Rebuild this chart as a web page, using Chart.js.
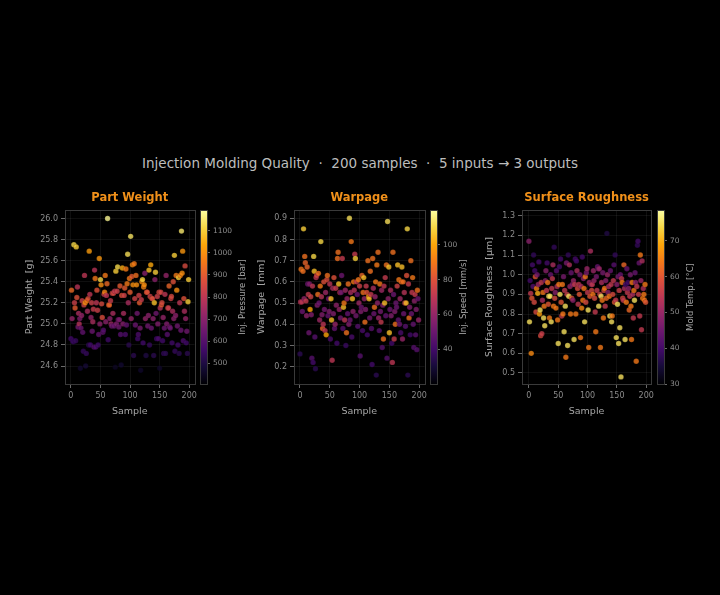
<!DOCTYPE html>
<html>
<head>
<meta charset="utf-8">
<script src="https://cdn.jsdelivr.net/npm/chart.js@4.4.1/dist/chart.umd.min.js"></script>
<style>
  html, body { margin: 0; padding: 0; background: #000; }
  #wrap { position: relative; width: 720px; height: 595px; background: #000; overflow: hidden; }
  #title {
    position: absolute; top: 153px; left: 0; width: 720px; text-align: center;
    font: 13.5px "DejaVu Sans", sans-serif; color: #bdbdbd; line-height: 20px; white-space: pre;
  }
  canvas { position: absolute; }
</style>
</head>
<body>
<div id="wrap">
  <div id="title">Injection Molding Quality  ·  200 samples  ·  5 inputs → 3 outputs</div>
  <canvas id="c1" width="190" height="240" style="left:10px;top:185px"></canvas>
  <canvas id="cb1" width="70" height="240" style="left:196px;top:185px"></canvas>
  <canvas id="c2" width="190" height="240" style="left:240px;top:185px"></canvas>
  <canvas id="cb2" width="70" height="240" style="left:426px;top:185px"></canvas>
  <canvas id="c3" width="187" height="240" style="left:470px;top:185px"></canvas>
  <canvas id="cb3" width="70" height="240" style="left:653px;top:185px"></canvas>
</div>
<script>
// ---- data (sample index 0..199) ----
const samples = Array.from({ length: 200 }, (_, i) => i);
const sampleTicks = [0, 50, 100, 150, 200];

const partWeight = [
  24.86,25.32,25.05,24.84,24.83,25.75,25.20,25.15,24.84,25.73,
  25.25,25.35,24.97,25.10,25.00,25.05,24.58,24.96,25.08,25.22,
  24.92,24.74,25.18,25.46,25.20,24.60,24.72,25.22,25.12,25.24,
  24.80,25.69,25.28,24.80,25.06,25.20,24.93,25.02,25.14,24.78,
  25.51,25.43,24.78,25.20,25.32,25.13,24.80,24.90,25.62,25.00,
  25.42,25.37,25.19,25.06,24.92,24.94,25.28,25.30,25.46,25.02,
  25.27,25.38,26.00,24.85,25.18,25.18,25.05,25.22,25.00,24.98,
  25.29,25.10,25.29,24.98,25.31,24.59,25.50,25.00,25.31,25.54,
  25.04,24.97,25.04,25.36,24.90,24.61,25.27,25.53,25.00,25.10,
  25.27,25.34,24.90,25.52,24.99,25.38,25.66,25.20,24.80,25.43,
  25.30,25.83,25.05,25.45,25.56,25.37,24.70,25.57,25.24,24.99,
  25.46,25.37,25.10,24.86,24.90,25.27,25.20,24.96,24.56,25.23,
  25.40,25.42,24.82,25.35,25.37,25.48,25.05,24.70,25.30,25.30,
  24.98,25.08,25.51,24.80,25.26,25.56,24.96,25.24,25.24,25.05,
  24.70,25.20,25.42,25.49,25.10,24.86,25.26,25.00,24.86,25.30,
  24.58,25.15,25.30,25.18,25.20,24.84,25.06,24.72,24.96,25.28,
  24.72,25.46,25.00,24.90,25.15,25.15,25.36,24.97,24.96,25.24,
  25.26,24.82,25.12,25.40,25.05,25.65,24.74,25.08,25.46,25.32,
  24.98,24.80,25.44,24.72,25.20,25.46,24.94,25.88,25.48,25.69,
  24.84,25.24,25.12,25.55,25.05,24.82,24.93,24.72,25.21,25.42
];
const injPressure = [
  560,930,720,560,540,1120,830,900,540,1100,
  880,790,650,760,780,680,470,640,720,830,
  620,540,840,800,1000,480,540,960,760,880,
  520,1020,800,560,720,830,640,760,820,600,
  790,960,580,800,880,830,560,620,1010,700,
  1120,1000,860,870,620,600,820,980,960,700,
  800,930,1180,560,900,920,700,820,740,650,
  840,760,860,640,810,450,1100,680,830,1120,
  660,650,680,900,600,470,880,1050,690,760,
  840,900,580,960,620,960,1130,760,520,960,
  900,1140,720,900,990,1000,520,960,840,640,
  940,1000,650,560,580,840,900,660,460,820,
  1000,1110,560,980,1000,690,720,500,900,880,
  650,700,1080,540,840,1040,640,900,860,700,
  520,1080,700,1100,650,560,830,680,580,860,
  460,780,850,900,860,560,720,540,640,800,
  520,720,680,600,860,820,920,660,640,840,
  860,560,760,880,700,1100,540,700,960,1000,
  650,560,1100,520,800,980,640,1150,1000,1010,
  580,880,760,860,720,560,650,520,1100,1100
];
const weightTicks = [24.6, 24.8, 25.0, 25.2, 25.4, 25.6, 25.8, 26.0];
const pressureTicks = [500, 600, 700, 800, 900, 1000, 1100];

const warpage = [
  0.26,0.505,0.66,0.505,0.46,0.65,0.85,0.52,0.72,0.69,
  0.51,0.44,0.67,0.59,0.54,0.36,0.59,0.47,0.53,0.445,
  0.24,0.58,0.22,0.72,0.65,0.34,0.19,0.62,0.63,0.49,
  0.54,0.64,0.50,0.42,0.58,0.79,0.53,0.445,0.38,0.40,
  0.60,0.47,0.37,0.55,0.35,0.61,0.63,0.44,0.52,0.46,
  0.59,0.33,0.52,0.42,0.23,0.57,0.45,0.62,0.38,0.40,
  0.57,0.49,0.31,0.71,0.74,0.59,0.47,0.55,0.43,0.55,
  0.63,0.71,0.38,0.48,0.50,0.42,0.56,0.30,0.36,0.52,
  0.45,0.59,0.40,0.90,0.42,0.55,0.79,0.34,0.52,0.46,
  0.60,0.56,0.73,0.71,0.44,0.60,0.54,0.39,0.61,0.50,
  0.58,0.25,0.46,0.48,0.63,0.37,0.55,0.62,0.52,0.41,
  0.47,0.58,0.55,0.35,0.70,0.53,0.52,0.43,0.65,0.54,
  0.38,0.21,0.71,0.57,0.45,0.48,0.53,0.60,0.16,0.68,
  0.50,0.74,0.43,0.37,0.59,0.46,0.41,0.56,0.29,0.49,
  0.33,0.58,0.50,0.62,0.44,0.68,0.24,0.885,0.52,0.67,
  0.36,0.47,0.56,0.44,0.31,0.22,0.74,0.54,0.33,0.46,
  0.40,0.50,0.48,0.58,0.68,0.42,0.61,0.40,0.52,0.36,
  0.60,0.67,0.33,0.60,0.45,0.55,0.50,0.39,0.50,0.63,
  0.85,0.16,0.59,0.43,0.48,0.35,0.70,0.45,0.55,0.62,
  0.40,0.29,0.51,0.54,0.35,0.47,0.28,0.56,0.52,0.42
];
const injSpeed = [
  35,68,90,70,50,88,108,60,88,85,
  72,58,85,50,72,50,55,100,75,55,
  45,70,40,110,105,45,35,70,75,55,
  88,88,50,62,90,110,68,55,85,70,
  80,52,70,62,100,78,88,48,50,55,
  70,42,105,105,70,65,55,80,48,60,
  72,58,40,88,88,105,60,70,52,50,
  50,72,45,105,90,70,62,38,88,60,
  48,88,55,112,50,65,90,42,105,58,
  90,68,72,108,52,72,50,45,90,62,
  75,45,55,50,85,42,88,105,60,88,
  55,72,80,40,88,95,105,52,88,72,
  45,40,88,65,50,88,60,90,35,90,
  58,88,60,45,90,52,72,62,45,55,
  88,70,105,72,48,88,45,112,58,105,
  105,50,65,55,40,70,88,50,72,55,
  88,50,50,75,105,48,90,50,62,42,
  88,105,60,88,50,68,72,45,105,80,
  110,35,72,88,55,40,88,50,72,90,
  48,45,58,72,45,55,45,88,50,60
];
const warpTicks = [0.2, 0.3, 0.4, 0.5, 0.6, 0.7, 0.8, 0.9];
const speedTicks = [40, 60, 80, 100];

const roughness = [
  1.17,0.76,0.97,0.905,0.60,0.88,1.05,0.94,1.10,0.86,
  1.02,0.99,0.81,0.93,1.00,0.905,0.95,1.065,0.80,0.82,
  0.69,0.96,0.70,0.87,0.91,0.78,0.84,0.74,0.97,1.02,
  0.92,1.06,0.96,0.85,0.89,0.78,0.89,1.00,0.76,0.93,
  0.98,1.05,0.84,1.14,0.88,0.91,0.83,1.02,0.94,0.77,
  0.65,0.95,1.04,0.90,1.08,0.86,0.79,0.95,0.80,0.99,
  0.71,0.92,0.84,0.58,1.06,0.90,0.64,1.10,0.89,1.05,
  0.94,0.80,1.01,0.88,0.95,0.87,0.97,0.67,0.95,1.08,
  0.80,1.07,1.02,0.93,0.85,0.95,0.90,1.00,0.68,0.94,
  0.83,1.09,0.87,0.98,0.93,0.76,0.99,0.86,1.01,1.03,
  0.91,0.82,0.63,0.96,0.89,1.12,0.95,0.92,0.95,0.90,
  1.02,0.97,0.88,0.81,0.71,0.99,0.92,1.04,1.03,0.84,
  1.03,0.90,0.63,0.89,0.96,0.87,1.01,0.78,0.92,0.93,
  0.84,0.97,0.88,1.21,1.00,0.91,0.94,0.89,0.79,1.02,
  0.95,0.76,0.79,0.90,0.97,1.05,0.86,1.10,0.87,0.68,
  0.95,0.85,0.99,0.65,0.92,0.73,1.00,0.48,0.98,0.96,
  0.88,0.87,1.05,0.93,0.67,0.95,0.86,1.03,0.91,0.96,
  0.93,0.82,0.89,1.00,0.84,0.67,0.96,0.90,0.78,0.92,
  0.87,1.01,0.96,0.56,0.94,1.15,1.17,0.90,1.06,0.79,
  1.10,0.97,0.72,1.07,0.88,0.93,0.90,0.87,0.95,0.86
];
const moldTemp = [
  48,75,40,55,66,60,40,42,38,58,
  40,60,58,65,45,70,50,40,68,75,
  58,55,56,52,64,75,64,75,48,48,
  55,40,64,60,75,64,75,44,75,55,
  55,52,64,38,58,48,64,42,52,64,
  75,64,40,75,40,60,55,64,64,46,
  75,55,75,64,46,56,75,38,75,52,
  50,64,44,60,48,48,50,75,55,40,
  64,40,52,58,55,55,60,46,64,52,
  66,40,64,48,64,75,64,58,46,50,
  55,75,64,50,60,52,48,58,55,64,
  50,50,58,55,64,46,55,44,46,75,
  50,56,64,75,52,64,46,64,58,64,
  55,48,62,36,50,48,52,64,75,44,
  55,75,64,58,55,42,60,38,55,75,
  48,75,46,75,56,75,44,75,55,64,
  58,55,62,52,75,40,64,44,55,40,
  48,62,55,46,64,64,64,52,55,64,
  75,44,48,64,55,38,40,56,44,55,
  64,50,55,52,64,52,64,64,64,60
];
const roughTicks = [0.5, 0.6, 0.7, 0.8, 0.9, 1.0, 1.1, 1.2, 1.3];
const tempTicks = [30, 40, 50, 60, 70];

// ---- styling ----
const FONT = '"DejaVu Sans", sans-serif';
const GRID = "rgba(255,255,255,0.06)";
const TICK = "#6a6a6a";
const FRAME = "#3a3a3a";
const TICK_LABEL = "#8c8c8c";
const AXIS_TITLE = "#a6a6a6";
const PANEL_TITLE = "#f0901a";

// inferno colormap stops
const INFERNO = [
  [0, 0, 4], [22, 11, 57], [66, 10, 104], [106, 23, 110], [147, 38, 103],
  [188, 55, 84], [221, 81, 58], [243, 120, 25], [252, 165, 10], [246, 215, 70], [252, 255, 164]
];
function inferno(t, a) {
  t = Math.max(0, Math.min(1, t));
  const s = t * 10;
  const i = Math.min(9, Math.floor(s));
  const f = s - i;
  const c0 = INFERNO[i], c1 = INFERNO[i + 1];
  const r = Math.round(c0[0] + (c1[0] - c0[0]) * f);
  const g = Math.round(c0[1] + (c1[1] - c0[1]) * f);
  const b = Math.round(c0[2] + (c1[2] - c0[2]) * f);
  return `rgba(${r},${g},${b},${a})`;
}

// frame box + panel title
const framePlugin = {
  id: "frame",
  afterDatasetsDraw(chart, args, opts) {
    const { ctx, chartArea: a } = chart;
    ctx.save();
    ctx.strokeStyle = FRAME;
    ctx.lineWidth = 1;
    ctx.strokeRect(Math.round(a.left) + 0.5, Math.round(a.top) + 0.5, Math.round(a.right - a.left), Math.round(a.bottom - a.top));
    if (opts.title) {
      ctx.fillStyle = PANEL_TITLE;
      ctx.font = `bold 11.5px ${FONT}`;
      ctx.textAlign = "center";
      ctx.textBaseline = "middle";
      ctx.fillText(opts.title, (a.left + a.right) / 2, a.top - 12);
    }
    ctx.restore();
  },
};

// colorbar strip + label
const colorbarPlugin = {
  id: "cbar",
  beforeDatasetsDraw(chart, args, opts) {
    const { ctx, chartArea: a, scales } = chart;
    const y = scales.y;
    const y0 = y.getPixelForValue(y.min);
    const y1 = y.getPixelForValue(y.max);
    const grad = ctx.createLinearGradient(0, y0, 0, y1);
    for (let k = 0; k <= 20; k++) grad.addColorStop(k / 20, inferno(k / 20, 1));
    ctx.save();
    ctx.fillStyle = grad;
    ctx.fillRect(a.left, a.top, a.right - a.left, a.bottom - a.top);
    ctx.strokeStyle = FRAME;
    ctx.lineWidth = 1;
    ctx.strokeRect(Math.round(a.left) + 0.5, Math.round(a.top) + 0.5, Math.round(a.right - a.left), Math.round(a.bottom - a.top));
    ctx.translate(a.right + opts.labelOffset, (a.top + a.bottom) / 2);
    ctx.rotate(-Math.PI / 2);
    ctx.fillStyle = AXIS_TITLE;
    ctx.font = `8.5px ${FONT}`;
    ctx.textAlign = "center";
    ctx.textBaseline = "middle";
    ctx.fillText(opts.label, 0, 0);
    ctx.restore();
  },
};

function makeScatter(p) {
  const colors = p.colorValues.map((c) => inferno((c - p.colorRange[0]) / (p.colorRange[1] - p.colorRange[0]), 0.8));
  return new Chart(document.getElementById(p.id), {
    type: "scatter",
    data: {
      datasets: [
        {
          data: p.values.map((v, i) => ({ x: samples[i], y: v })),
          pointRadius: 2.7,
          pointBackgroundColor: colors,
          pointBorderColor: "rgba(0,0,0,0.3)",
          pointBorderWidth: 0.5,
        },
      ],
    },
    options: {
      responsive: false,
      animation: false,
      events: [],
      layout: { padding: { top: 25, right: 4, left: 0, bottom: 0 } },
      plugins: {
        legend: { display: false },
        tooltip: { enabled: false },
        frame: { title: p.title },
      },
      scales: {
        x: {
          type: "linear",
          min: p.xRange[0],
          max: p.xRange[1],
          afterBuildTicks: (s) => { s.ticks = sampleTicks.map((v) => ({ value: v })); },
          afterFit: (s) => { s.height = 41; },
          grid: { color: GRID, tickColor: TICK, tickLength: 4 },
          border: { display: false },
          ticks: { color: TICK_LABEL, font: { family: FONT, size: 8 }, padding: 3, maxRotation: 0, autoSkip: false, callback: (v) => String(v) },
          title: { display: true, text: "Sample", color: AXIS_TITLE, font: { family: FONT, size: 9.5 }, padding: { top: 0, bottom: 8 } },
        },
        y: {
          type: "linear",
          min: p.yRange[0],
          max: p.yRange[1],
          afterBuildTicks: (s) => { s.ticks = p.yTicks.map((v) => ({ value: v })); },
          afterFit: (s) => { s.width = p.yAxisW; },
          grid: { color: GRID, tickColor: TICK, tickLength: 4 },
          border: { display: false },
          ticks: { color: TICK_LABEL, font: { family: FONT, size: 8 }, padding: 3, autoSkip: false, callback: (v) => Number(v).toFixed(1) },
          title: { display: true, text: p.yTitle, color: AXIS_TITLE, font: { family: FONT, size: 9.5 }, padding: { top: p.yTitlePad, bottom: 0 } },
        },
      },
    },
    plugins: [framePlugin],
  });
}

function makeColorbar(c) {
  return new Chart(document.getElementById(c.id), {
    type: "scatter",
    data: { datasets: [] },
    options: {
      responsive: false,
      animation: false,
      events: [],
      layout: { padding: { top: 25, left: 4, right: 0, bottom: 41 } },
      plugins: {
        legend: { display: false },
        tooltip: { enabled: false },
        cbar: { label: c.label, labelOffset: c.labelOffset },
      },
      scales: {
        x: { display: false, min: 0, max: 1 },
        y: {
          position: "right",
          min: c.range[0],
          max: c.range[1],
          afterBuildTicks: (s) => { s.ticks = c.ticks.map((v) => ({ value: v })); },
          afterFit: (s) => { s.width = 59; },
          grid: { drawOnChartArea: false, tickLength: 3, tickColor: TICK },
          border: { display: false },
          ticks: { color: TICK_LABEL, font: { family: FONT, size: 7.5 }, padding: 3, autoSkip: false, callback: (v) => String(v) },
        },
      },
    },
    plugins: [colorbarPlugin],
  });
}

const pressureRange = [405, 1195];
const speedRange = [20, 120];
const tempRange = [30, 78.6];

makeScatter({
  id: "c1", title: "Part Weight", values: partWeight, colorValues: injPressure, colorRange: pressureRange,
  xRange: [-10, 209], yRange: [24.43, 26.08], yTicks: weightTicks,
  yTitle: "Part Weight  [g]", yAxisW: 55, yTitlePad: 14,
});
makeColorbar({ id: "cb1", range: pressureRange, ticks: pressureTicks, label: "Inj. Pressure [bar]", labelOffset: 36 });

makeScatter({
  id: "c2", title: "Warpage", values: warpage, colorValues: injSpeed, colorRange: speedRange,
  xRange: [-10, 209], yRange: [0.118, 0.939], yTicks: warpTicks,
  yTitle: "Warpage  [mm]", yAxisW: 54, yTitlePad: 16,
});
makeColorbar({ id: "cb2", range: speedRange, ticks: speedTicks, label: "Inj. Speed [mm/s]", labelOffset: 27 });

makeScatter({
  id: "c3", title: "Surface Roughness", values: roughness, colorValues: moldTemp, colorRange: tempRange,
  xRange: [-11.8, 208.4], yRange: [0.444, 1.329], yTicks: roughTicks,
  yTitle: "Surface Roughness  [µm]", yAxisW: 52, yTitlePad: 14,
});
makeColorbar({ id: "cb3", range: tempRange, ticks: tempTicks, label: "Mold Temp. [°C]", labelOffset: 27 });
</script>
</body>
</html>
